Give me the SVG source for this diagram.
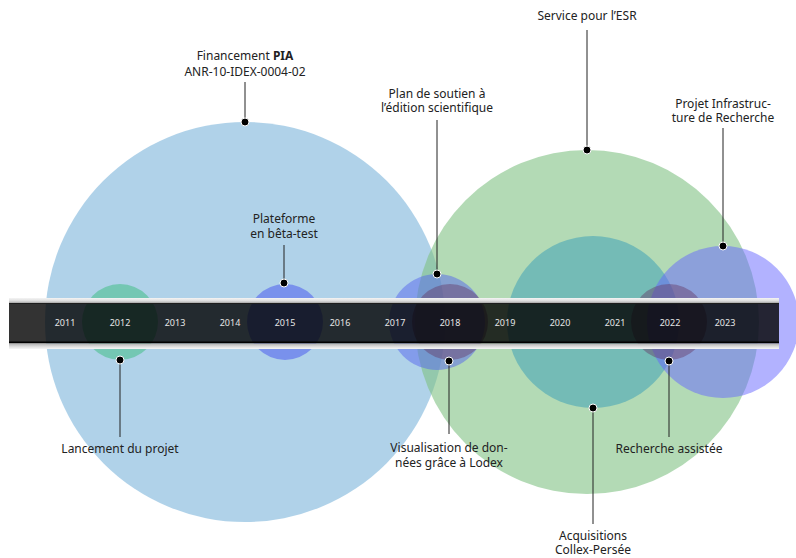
<svg xmlns="http://www.w3.org/2000/svg" width="796" height="558" viewBox="0 0 796 558">
<defs>
<linearGradient id="gTop" x1="0" y1="0" x2="0" y2="1"><stop offset="0" stop-color="#f4f4f4"/><stop offset="0.5" stop-color="#dddddd"/><stop offset="1" stop-color="#8a8a8a"/></linearGradient>
<linearGradient id="gBot" x1="0" y1="0" x2="0" y2="1"><stop offset="0" stop-color="#b0b0b0"/><stop offset="0.6" stop-color="#e0e0e0"/><stop offset="1" stop-color="#f6f6f6"/></linearGradient>
</defs>
<style>
text{font-family:"Noto Sans","Open Sans","Liberation Sans",sans-serif;fill:#222;font-size:12px;text-anchor:middle}
.yr{fill:#e6e6e6;font-size:9px}
.ln{stroke:#222;stroke-width:1;fill:none}
.dot{fill:#000;stroke:#fff;stroke-width:1}
</style>
<g id="circles">
<circle id="c-pia" cx="245" cy="322" r="200" fill="#8fbfe0" fill-opacity="0.7"/>
<circle id="c-esr" cx="587" cy="322" r="172" fill="#80c283" fill-opacity="0.6"/>
<circle id="c-collex" cx="593" cy="322" r="86" fill="#4aa6b8" fill-opacity="0.6"/>
<circle id="c-infra" cx="723" cy="322" r="76" fill="#6666ff" fill-opacity="0.5"/>
<circle id="c-2012" cx="120" cy="322" r="38" fill="#4cbf8f" fill-opacity="0.6"/>
<circle id="c-2015" cx="285" cy="322" r="38" fill="#5566ee" fill-opacity="0.6"/>
<circle id="c-plan" cx="437" cy="322" r="48" fill="#5566ee" fill-opacity="0.5"/>
<circle id="c-lodex" cx="450" cy="322" r="38" fill="#663a66" fill-opacity="0.45"/>
<circle id="c-recherche" cx="669" cy="322" r="38" fill="#663a66" fill-opacity="0.45"/>
</g>
<g id="timeline">
<rect x="9" y="298" width="770" height="6" fill="url(#gTop)"/>
<rect x="9" y="303" width="770" height="40" fill="#000" fill-opacity="0.8"/>
<rect x="9" y="341.5" width="770" height="2" fill="#000"/>
<rect x="9" y="343.5" width="770" height="5.5" fill="url(#gBot)"/>
<text class="yr" x="65" y="326">2011</text>
<text class="yr" x="120" y="326">2012</text>
<text class="yr" x="175" y="326">2013</text>
<text class="yr" x="230" y="326">2014</text>
<text class="yr" x="285" y="326">2015</text>
<text class="yr" x="340" y="326">2016</text>
<text class="yr" x="395" y="326">2017</text>
<text class="yr" x="450" y="326">2018</text>
<text class="yr" x="505" y="326">2019</text>
<text class="yr" x="560" y="326">2020</text>
<text class="yr" x="615" y="326">2021</text>
<text class="yr" x="670" y="326">2022</text>
<text class="yr" x="725" y="326">2023</text>
</g>
<g id="connectors">
<line class="ln" x1="245" y1="82" x2="245" y2="122"/>
<line class="ln" x1="284" y1="245" x2="284" y2="283"/>
<line class="ln" x1="437" y1="120" x2="437" y2="274"/>
<line class="ln" x1="587" y1="30" x2="587" y2="150"/>
<line class="ln" x1="723" y1="128" x2="723" y2="246"/>
<line class="ln" x1="120" y1="360" x2="120" y2="437"/>
<line class="ln" x1="449" y1="361" x2="449" y2="434"/>
<line class="ln" x1="593" y1="408" x2="593" y2="524"/>
<line class="ln" x1="669" y1="361" x2="669" y2="437"/>
<circle class="dot" cx="245" cy="122" r="4"/>
<circle class="dot" cx="284" cy="283" r="4"/>
<circle class="dot" cx="437" cy="274" r="4"/>
<circle class="dot" cx="587" cy="150" r="4"/>
<circle class="dot" cx="723" cy="246" r="4"/>
<circle class="dot" cx="120" cy="360" r="4"/>
<circle class="dot" cx="449" cy="361" r="4"/>
<circle class="dot" cx="593" cy="408" r="4"/>
<circle class="dot" cx="669" cy="361" r="4"/>
</g>
<g id="n-pia"><text x="245" y="60">Financement <tspan font-weight="bold">PIA</tspan></text><text x="245" y="76">ANR-10-IDEX-0004-02</text></g>
<g id="n-plateforme"><text x="284" y="223">Plateforme</text><text x="284" y="238">en bêta-test</text></g>
<g id="n-plan"><text x="437" y="98">Plan de soutien à</text><text x="437" y="112">l’édition scientifique</text></g>
<g id="n-esr"><text x="587" y="20">Service pour l’ESR</text></g>
<g id="n-infra"><text x="723" y="108">Projet Infrastruc-</text><text x="723" y="122">ture de Recherche</text></g>
<g id="n-lancement"><text x="120" y="453">Lancement du projet</text></g>
<g id="n-lodex"><text x="449" y="452">Visualisation de don-</text><text x="449" y="467">nées grâce à Lodex</text></g>
<g id="n-collex"><text x="593" y="540">Acquisitions</text><text x="593" y="554">Collex-Persée</text></g>
<g id="n-recherche"><text x="669" y="453">Recherche assistée</text></g>
</svg>
